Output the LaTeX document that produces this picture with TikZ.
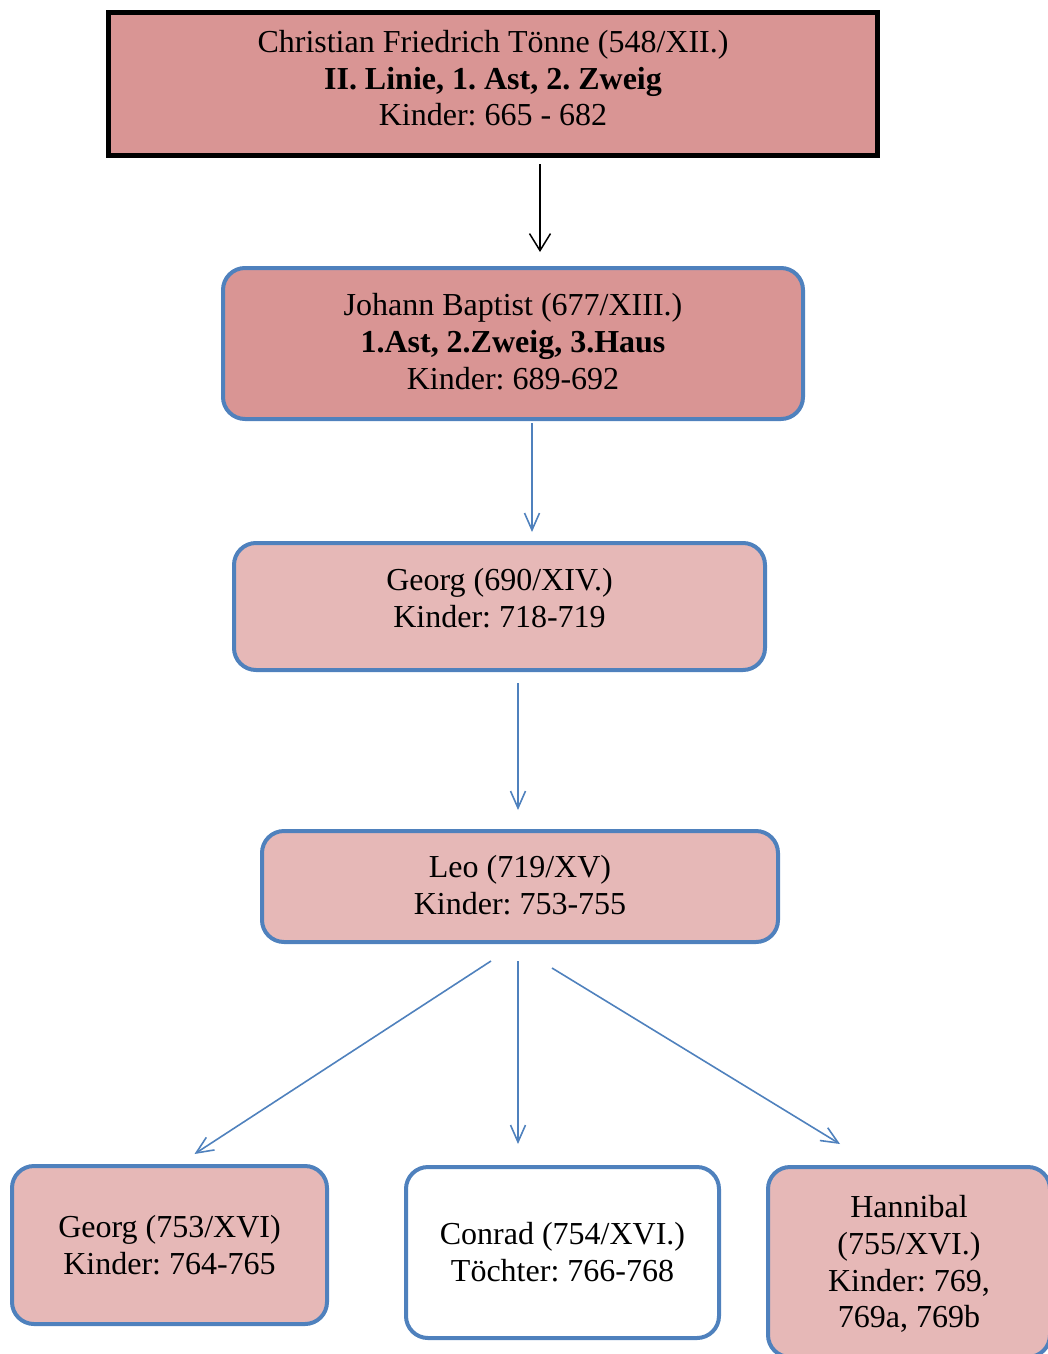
\documentclass[tikz,border=0pt]{standalone}
\usepackage{fontspec}
\setmainfont{Liberation Serif}
\frenchspacing
\usetikzlibrary{arrows.meta}
\definecolor{rosedark}{HTML}{D99594}
\definecolor{roselight}{HTML}{E6B8B7}
\definecolor{boxblue}{HTML}{4F81BD}
\tikzset{
  person/.style={rectangle, rounded corners=22pt, draw=boxblue, line width=4pt,
    fill=roselight, align=center, inner sep=0pt,
    font=\fontsize{32pt}{36.8pt}\selectfont},
  rootbox/.style={rectangle, draw=black, line width=5pt, fill=rosedark,
    align=center, inner sep=0pt, font=\fontsize{32pt}{36.8pt}\selectfont},
  blackarr/.style={draw=black, line width=1.5pt, -{Straight Barb[length=17pt,width=21pt,line width=1.5pt]}},
  bluearr/.style={draw=boxblue, line width=1.6pt, -{Straight Barb[length=17pt,width=15pt,line width=1.6pt]}}
}
\begin{document}
\begin{tikzpicture}[x=1pt,y=-1pt]
\useasboundingbox (0,0) rectangle (1047,1354);

% family members
\node[rootbox, text depth=12pt, minimum width=769pt, minimum height=143pt] (cft) at (493,84)
  {Christian Friedrich Tönne (548/XII.)\\\textbf{II. Linie, 1. Ast, 2. Zweig}\\Kinder: 665 - 682};
\node[person, text depth=4pt, fill=rosedark, minimum width=580pt, minimum height=151pt] (jb) at (513,343.5)
  {Johann Baptist (677/XIII.)\\\textbf{1.Ast, 2.Zweig, 3.Haus}\\Kinder: 689-692};
\node[person, text depth=18pt, minimum width=531pt, minimum height=127pt] (g690) at (499.5,606.5)
  {Georg (690/XIV.)\\Kinder: 718-719};
\node[person, text depth=4pt, minimum width=516pt, minimum height=111pt] (leo) at (520,886.5)
  {Leo (719/XV)\\Kinder: 753-755};
\node[person, minimum width=315pt, minimum height=158pt] (g753) at (169.5,1245)
  {Georg (753/XVI)\\Kinder: 764-765};
\node[person, fill=white, minimum width=313pt, minimum height=171pt] (con) at (562.5,1252.5)
  {Conrad (754/XVI.)\\Töchter: 766-768};
\node[person, text depth=1pt, minimum width=282pt, minimum height=190pt] (han) at (909,1262)
  {Hannibal\\(755/XVI.)\\Kinder: 769,\\769a, 769b};

% descent
\draw[blackarr] ([xshift=47pt,yshift=-6pt]cft.south) -- ([xshift=27pt,yshift=14pt]jb.north);
\draw[bluearr] ([xshift=19pt,yshift=-2pt]jb.south) -- ([xshift=32.5pt,yshift=9pt]g690.north);
\draw[bluearr] ([xshift=18.5pt,yshift=-11pt]g690.south) -- ([xshift=-2pt,yshift=19pt]leo.north);
\draw[bluearr] ([xshift=-29pt,yshift=-17pt]leo.south) -- ([xshift=25pt,yshift=10pt]g753.north);
\draw[bluearr] ([xshift=-2pt,yshift=-17pt]leo.south) -- ([xshift=-44.5pt,yshift=21pt]con.north);
\draw[bluearr] ([xshift=32pt,yshift=-24pt]leo.south) -- ([xshift=-69pt,yshift=21pt]han.north);
\end{tikzpicture}
\end{document}
